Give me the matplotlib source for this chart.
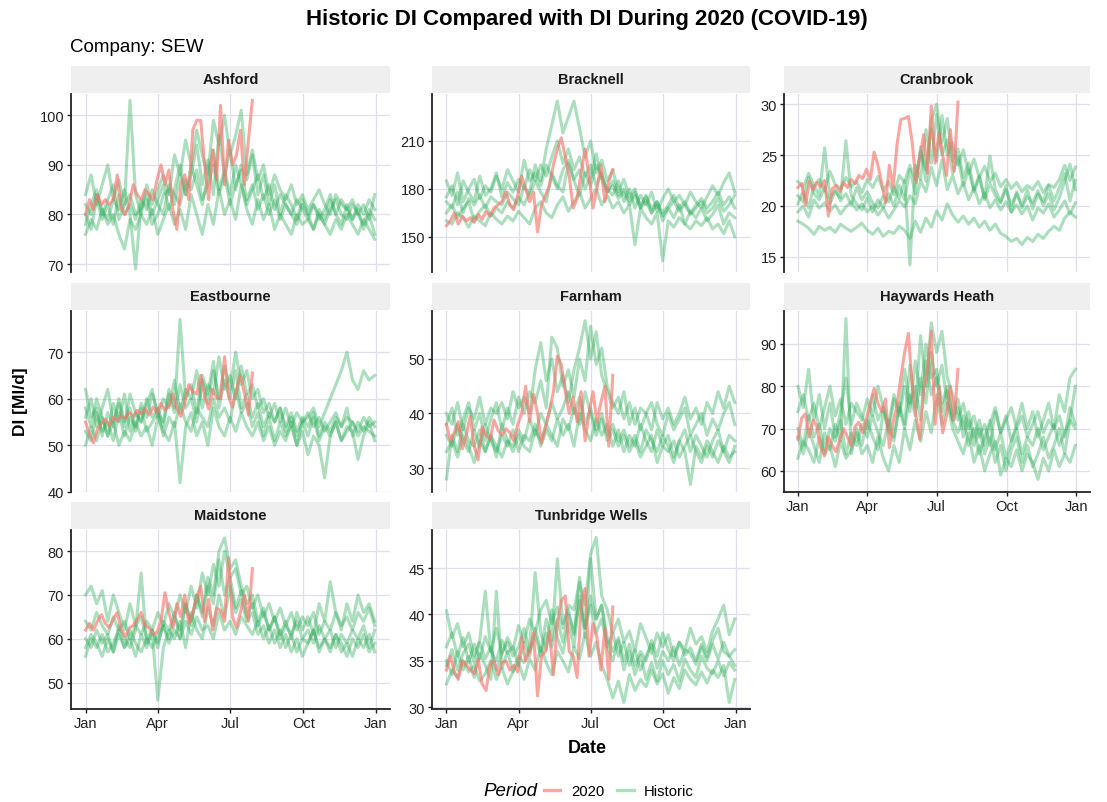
import numpy as np
import matplotlib
matplotlib.use("Agg")
import matplotlib.pyplot as plt
from matplotlib.lines import Line2D

plt.rcParams["font.family"] = ["Liberation Sans", "DejaVu Sans"]

# ---- data (day-of-year readings; historic weekly, 2020 every 5 days) ----
towns = ["Ashford", "Bracknell", "Cranbrook", "Eastbourne", "Farnham",
         "Haywards Heath", "Maidstone", "Tunbridge Wells"]
month_ticks = [0, 91, 182, 274, 365]
month_labels = ["Jan", "Apr", "Jul", "Oct", "Jan"]

ashford_2020 = [80, 83, 81, 84, 82, 83, 82, 83, 88, 81, 80, 82, 86, 84, 83, 85, 84, 83, 87, 90, 86,
                89, 81, 77, 86, 88, 83, 97, 99, 99, 90, 83, 93, 87, 102, 86, 95, 90, 92, 97, 86, 95, 103]
ashford_hist = [
    [78, 82, 85, 80, 83, 86, 79, 82, 84, 80, 81, 83, 78, 80, 84, 85, 82, 88, 84, 90, 86, 82, 88, 93, 85, 89, 84,
     90, 86, 82, 85, 88, 83, 86, 81, 84, 82, 80, 83, 81, 79, 82, 80, 78, 81, 83, 80, 79, 82, 80, 78, 81, 79],
    [84, 88, 82, 86, 90, 83, 87, 82, 103, 84, 80, 86, 82, 85, 88, 84, 92, 88, 95, 90, 97, 92, 88, 99, 94, 100, 92,
     96, 101, 88, 93, 87, 90, 84, 88, 85, 83, 86, 82, 84, 81, 83, 85, 82, 80, 84, 82, 81, 83, 80, 82, 79, 84],
    [76, 79, 77, 81, 78, 80, 76, 73, 79, 77, 80, 78, 81, 76, 79, 82, 78, 81, 77, 84, 80, 76, 82, 78, 85, 80, 83,
     79, 86, 81, 78, 83, 79, 82, 77, 80, 78, 76, 80, 78, 79, 77, 80, 78, 76, 79, 77, 80, 78, 76, 79, 77, 75],
    [82, 80, 84, 81, 79, 83, 81, 85, 80, 69, 82, 84, 80, 83, 86, 81, 85, 90, 84, 88, 94, 86, 91, 84, 96, 88, 93,
     85, 90, 87, 92, 84, 88, 82, 86, 80, 84, 82, 79, 83, 80, 82, 79, 81, 84, 80, 83, 81, 79, 82, 80, 83, 81],
    [80, 77, 83, 79, 82, 78, 84, 80, 82, 79, 83, 81, 85, 82, 80, 86, 84, 82, 87, 85, 89, 83, 86, 90, 84, 88, 82,
     86, 89, 83, 86, 81, 84, 80, 83, 79, 82, 80, 78, 82, 80, 77, 81, 79, 83, 80, 78, 82, 79, 81, 77, 80, 76],
]

bracknell_2020 = [157, 160, 165, 158, 163, 160, 162, 159, 164, 161, 166, 163, 168, 170, 172, 178, 170, 167, 176,
                  188, 180, 172, 178, 153, 170, 176, 182, 195, 205, 212, 200, 188, 168, 174, 190, 205, 188, 168,
                  180, 195, 172, 185, 192]
bracknell_hist = [
    [175, 182, 170, 185, 178, 172, 188, 176, 180, 190, 175, 184, 178, 186, 180, 192, 185, 195, 188, 200, 210, 196,
     205, 192, 200, 188, 195, 182, 190, 178, 185, 176, 180, 172, 178, 170, 175, 168, 172, 165, 170, 176, 168, 172,
     165, 170, 174, 168, 172, 178, 170, 175, 168],
    [165, 170, 162, 168, 172, 160, 166, 170, 163, 168, 165, 172, 168, 175, 170, 178, 195, 185, 205, 220, 235, 215,
     225, 235, 218, 200, 210, 190, 198, 185, 192, 178, 186, 175, 180, 168, 176, 165, 172, 160, 168, 162, 170, 158,
     166, 162, 168, 160, 164, 170, 158, 165, 162],
    [185, 176, 190, 172, 180, 186, 174, 182, 178, 188, 180, 192, 185, 178, 198, 185, 190, 182, 195, 188, 180, 192,
     198, 185, 176, 190, 182, 195, 188, 180, 176, 185, 172, 180, 168, 176, 170, 178, 166, 174, 180, 172, 176, 170,
     178, 172, 168, 175, 182, 176, 184, 190, 178],
    [160, 158, 165, 162, 156, 163, 160, 157, 165, 161, 158, 163, 160, 166, 162, 158, 168, 172, 165, 162, 170, 175,
     166, 172, 178, 168, 174, 180, 170, 176, 168, 172, 165, 170, 145, 168, 162, 158, 165, 135, 160, 156, 162, 158,
     155, 160, 157, 162, 155, 158, 152, 160, 150],
    [172, 168, 178, 165, 174, 170, 176, 168, 175, 172, 170, 178, 174, 170, 182, 176, 185, 178, 172, 190, 182, 178,
     196, 186, 192, 180, 188, 202, 186, 178, 182, 174, 178, 170, 176, 168, 172, 165, 170, 163, 168, 172, 166, 170,
     164, 168, 172, 165, 168, 174, 166, 170, 176],
]

cranbrook_2020 = [21.8, 22.2, 20.1, 22.4, 21.6, 22.3, 21.9, 22.5, 19.0, 21.7, 22.0, 21.4, 22.3, 21.8, 22.6, 22.2,
                  23.0, 22.7, 23.6, 22.6, 25.3, 24.0, 22.2, 20.3, 24.0, 21.8, 26.0, 28.5, 28.6, 28.8, 26.2, 22.3,
                  24.8, 27.0, 23.2, 29.8, 24.2, 27.2, 25.0, 23.0, 27.5, 23.4, 30.2]
cranbrook_hist = [
    [18.5, 18.2, 17.8, 17.2, 18.0, 17.6, 17.9, 17.4, 18.2, 17.8, 17.5, 17.9, 18.3, 17.6, 17.2, 17.8, 17.0, 17.5,
     17.3, 18.0, 17.6, 16.8, 18.5, 17.4, 18.8, 17.9, 19.5, 18.6, 20.2, 19.1, 18.4, 19.0, 18.2, 18.8, 17.9, 18.5,
     17.6, 18.2, 17.3, 17.0, 16.5, 16.8, 16.2, 16.9, 16.5, 17.2, 16.8, 17.5, 18.0, 17.6, 18.8, 19.4, 18.9],
    [20.2, 21.5, 19.8, 22.0, 21.0, 25.7, 20.8, 21.6, 20.5, 21.2, 20.1, 21.8, 20.6, 21.4, 20.3, 19.8, 21.0, 20.4,
     21.9, 20.7, 22.5, 14.2, 24.0, 22.6, 27.5, 24.2, 29.0, 25.0, 26.5, 23.2, 24.8, 22.0, 23.5, 21.4, 22.8, 20.6,
     22.2, 21.0, 20.3, 21.6, 20.1, 21.2, 19.8, 20.9, 20.3, 21.5, 20.0, 21.2, 19.6, 20.8, 22.4, 24.1, 21.6],
    [21.0, 20.4, 22.8, 21.2, 20.6, 21.8, 20.2, 21.4, 20.8, 26.4, 21.0, 20.2, 19.6, 20.8, 19.4, 20.6, 19.8, 21.2,
     20.0, 22.0, 20.6, 23.6, 21.2, 25.8, 22.4, 28.4, 30.0, 26.2, 28.6, 24.4, 25.6, 22.8, 24.2, 21.6, 23.0, 20.8,
     24.9, 21.6, 20.4, 22.0, 19.4, 21.4, 20.0, 21.6, 19.7, 21.2, 20.4, 22.0, 20.5, 21.8, 23.2, 20.5, 22.5],
    [19.4, 20.0, 18.9, 20.6, 19.8, 20.3, 19.5, 20.1, 19.2, 19.9, 20.4, 19.6, 20.2, 19.4, 20.0, 19.1, 19.8, 18.8,
     19.6, 20.5, 19.9, 21.0, 20.2, 22.5, 21.4, 23.8, 22.0, 24.5, 21.6, 23.0, 21.2, 22.3, 20.6, 21.8, 20.2, 21.3,
     19.8, 20.6, 19.6, 20.4, 19.4, 20.1, 19.2, 20.0, 18.6, 19.8, 19.3, 20.2, 18.9, 19.6, 20.5, 19.2, 20.3],
    [22.4, 21.8, 23.2, 22.0, 22.6, 21.5, 23.4, 22.1, 21.7, 22.8, 21.9, 22.4, 21.3, 22.6, 21.8, 22.9, 21.5, 22.4,
     21.1, 23.0, 22.3, 24.0, 22.6, 25.4, 23.5, 27.6, 24.4, 28.9, 25.0, 26.2, 24.0, 25.5, 23.2, 24.6, 22.8, 23.9,
     22.4, 23.2, 21.9, 22.6, 21.7, 22.3, 21.4, 22.0, 21.6, 22.4, 21.3, 22.1, 21.8, 22.6, 24.0, 22.5, 23.8],
]

eastbourne_2020 = [55.0, 52.5, 50.5, 53.5, 54.8, 55.6, 54.2, 56.0, 55.2, 56.4, 55.8, 57.0, 56.2, 57.5, 56.8, 57.8,
                   56.5, 58.2, 57.0, 59.0, 57.5, 58.5, 61.0, 57.8, 56.2, 59.2, 63.0, 61.5, 61.0, 65.0, 60.5, 57.8,
                   62.0, 60.2, 60.0, 69.0, 60.5, 58.2, 62.0, 65.0, 61.2, 56.5, 65.5]
eastbourne_hist = [
    [58, 54, 60, 56, 52, 59, 55, 61, 53, 57, 55, 60, 56, 58, 54, 61, 57, 63, 58, 60, 55, 64, 59, 66, 60, 67, 62,
     70, 63, 66, 60, 62, 57, 59, 55, 58, 54, 57, 53, 56, 54, 57, 52, 55, 53, 56, 54, 58, 52, 55, 53, 56, 54],
    [62, 56, 58, 52, 57, 54, 60, 55, 58, 53, 59, 56, 61, 57, 55, 62, 58, 77, 60, 63, 57, 65, 61, 68, 58, 64, 60,
     66, 58, 61, 56, 59, 54, 57, 55, 58, 53, 56, 52, 55, 57, 54, 56, 53, 55, 57, 54, 56, 55, 53, 56, 54, 55],
    [50, 54, 51, 56, 52, 55, 50, 53, 51, 55, 52, 54, 50, 56, 53, 51, 55, 42, 54, 57, 52, 55, 50, 58, 54, 52, 56,
     53, 57, 54, 52, 55, 51, 54, 50, 53, 51, 55, 50, 53, 48, 52, 50, 43, 52, 55, 51, 54, 53, 47, 52, 55, 51],
    [56, 60, 54, 58, 62, 55, 59, 54, 61, 57, 55, 59, 62, 56, 60, 58, 64, 57, 62, 60, 66, 58, 63, 61, 69, 62, 65,
     60, 67, 61, 63, 58, 60, 56, 59, 55, 58, 54, 57, 55, 56, 58, 54, 57, 60, 63, 66, 70, 64, 62, 66, 64, 65],
    [53, 51, 57, 53, 55, 51, 57, 52, 56, 54, 58, 53, 55, 57, 52, 56, 54, 59, 55, 53, 58, 56, 54, 60, 56, 58, 55,
     62, 57, 59, 54, 57, 52, 56, 51, 55, 52, 54, 50, 55, 52, 56, 51, 54, 52, 55, 51, 53, 55, 52, 54, 53, 52],
]

farnham_2020 = [38.0, 35.0, 36.5, 38.5, 33.5, 36.0, 39.5, 34.0, 31.5, 37.5, 36.0, 35.2, 38.8, 37.0, 36.0, 37.2,
                36.5, 35.0, 38.0, 40.0, 45.0, 38.5, 43.5, 40.0, 34.5, 37.5, 40.5, 44.0, 50.5, 49.0, 44.0, 40.0,
                43.0, 38.5, 44.0, 35.0, 40.0, 44.0, 38.5, 42.0, 45.0, 34.0, 47.0]
farnham_hist = [
    [28, 36, 33, 38, 35, 34, 37, 33, 36, 32, 38, 35, 34, 37, 35, 39, 36, 40, 38, 42, 39, 41, 44, 40, 43, 38, 41,
     37, 40, 36, 38, 35, 37, 34, 36, 33, 37, 35, 33, 36, 34, 31, 35, 33, 27, 34, 32, 35, 33, 31, 34, 32, 33],
    [40, 38, 42, 37, 41, 39, 43, 38, 41, 40, 42, 39, 44, 41, 43, 40, 48, 53, 46, 50, 44, 47, 42, 48, 52, 57, 50,
     55, 47, 44, 41, 43, 39, 42, 38, 41, 40, 37, 42, 39, 41, 38, 40, 43, 39, 41, 38, 42, 40, 44, 41, 45, 42],
    [36, 34, 38, 35, 33, 37, 34, 38, 35, 33, 36, 34, 37, 33, 36, 35, 38, 34, 37, 35, 39, 36, 38, 34, 40, 37, 35,
     39, 36, 38, 34, 37, 33, 36, 34, 38, 35, 33, 37, 34, 36, 32, 35, 37, 33, 36, 34, 32, 35, 37, 33, 36, 35],
    [38, 41, 36, 39, 42, 37, 40, 35, 39, 42, 37, 41, 38, 43, 40, 44, 42, 46, 41, 54, 52, 45, 48, 43, 50, 46, 56,
     49, 52, 45, 42, 40, 44, 38, 41, 37, 40, 42, 38, 36, 40, 37, 39, 41, 36, 38, 40, 36, 39, 37, 40, 42, 38],
    [33, 35, 32, 36, 34, 31, 35, 33, 36, 34, 32, 35, 33, 36, 34, 33, 37, 35, 38, 36, 34, 39, 37, 41, 38, 44, 40,
     36, 39, 35, 37, 34, 36, 33, 35, 32, 34, 36, 31, 34, 33, 35, 32, 34, 36, 33, 31, 34, 32, 35, 33, 31, 34],
]

haywards_2020 = [67.5, 72.5, 73.5, 68.0, 72.0, 70.5, 65.5, 63.5, 68.0, 66.0, 64.5, 67.5, 70.0, 68.0, 66.0, 70.5,
                 71.5, 69.0, 72.5, 76.0, 79.5, 76.0, 74.0, 77.0, 65.5, 71.5, 75.5, 82.0, 88.0, 92.5, 80.0, 73.0,
                 67.5, 79.0, 84.0, 93.0, 71.0, 80.0, 69.0, 73.0, 80.0, 72.0, 84.0]
haywards_hist = [
    [80, 75, 84, 72, 78, 70, 76, 68, 74, 82, 71, 76, 73, 70, 78, 72, 75, 69, 77, 73, 80, 74, 86, 78, 90, 82, 84,
     76, 80, 72, 75, 68, 72, 66, 70, 64, 68, 62, 66, 60, 65, 68, 62, 66, 61, 64, 68, 63, 66, 70, 64, 72, 80],
    [68, 64, 70, 66, 62, 69, 65, 71, 67, 96, 64, 70, 66, 72, 68, 65, 74, 70, 67, 76, 71, 85, 75, 92, 80, 95, 88,
     93, 82, 78, 72, 76, 70, 73, 68, 71, 66, 74, 69, 72, 75, 70, 73, 68, 71, 74, 69, 72, 70, 73, 68, 75, 71],
    [63, 67, 65, 62, 68, 64, 66, 61, 67, 63, 65, 69, 64, 66, 62, 68, 63, 60, 66, 62, 70, 65, 72, 67, 74, 69, 78,
     71, 76, 70, 67, 64, 69, 62, 66, 60, 64, 67, 59, 63, 61, 65, 60, 64, 62, 58, 63, 60, 65, 61, 64, 62, 66],
    [74, 78, 72, 76, 70, 75, 80, 73, 77, 71, 76, 74, 72, 77, 73, 80, 75, 71, 78, 74, 84, 76, 80, 72, 86, 78, 82,
     74, 79, 73, 77, 70, 74, 68, 72, 66, 71, 75, 69, 73, 67, 71, 76, 70, 74, 68, 72, 76, 70, 78, 74, 82, 84],
    [70, 66, 73, 68, 71, 65, 70, 67, 72, 64, 69, 66, 71, 68, 73, 69, 66, 72, 68, 75, 70, 78, 73, 82, 76, 88, 80,
     85, 76, 72, 69, 73, 66, 70, 64, 68, 72, 65, 69, 63, 67, 70, 64, 68, 66, 70, 65, 68, 71, 66, 69, 72, 70],
]

maidstone_2020 = [62.0, 63.5, 62.0, 64.0, 65.5, 63.5, 62.5, 64.5, 66.0, 62.0, 60.5, 62.5, 63.0, 64.5, 66.0, 63.0,
                  62.5, 61.0, 61.5, 64.0, 70.5, 66.0, 62.5, 68.0, 65.0, 70.0, 63.5, 66.0, 69.5, 72.0, 64.0, 69.0,
                  62.0, 67.0, 66.5, 64.0, 78.5, 65.0, 62.5, 66.0, 70.0, 64.0, 76.0]
maidstone_hist = [
    [70, 72, 68, 71, 64, 70, 66, 62, 68, 63, 65, 60, 62, 58, 64, 62, 66, 60, 68, 63, 70, 65, 72, 68, 78, 70, 74,
     67, 71, 65, 68, 63, 66, 62, 65, 61, 64, 60, 66, 62, 65, 61, 68, 64, 73, 66, 62, 68, 64, 70, 66, 68, 64],
    [60, 58, 62, 59, 61, 57, 63, 60, 58, 62, 75, 59, 61, 46, 58, 62, 60, 64, 58, 66, 62, 60, 67, 63, 70, 65, 72,
     66, 69, 64, 66, 61, 63, 59, 62, 58, 61, 57, 60, 56, 59, 62, 57, 60, 58, 61, 57, 59, 56, 60, 58, 61, 57],
    [56, 60, 58, 61, 57, 59, 62, 58, 60, 56, 61, 58, 62, 59, 63, 60, 65, 62, 68, 64, 70, 66, 74, 70, 80, 83, 76,
     78, 72, 68, 70, 64, 67, 62, 65, 60, 63, 61, 64, 60, 62, 59, 63, 60, 62, 58, 61, 59, 62, 60, 63, 58, 62],
    [64, 62, 66, 63, 61, 65, 62, 64, 60, 63, 61, 64, 62, 66, 63, 68, 65, 70, 66, 72, 67, 75, 70, 77, 72, 80, 74,
     76, 70, 72, 67, 70, 65, 68, 64, 67, 63, 66, 62, 65, 63, 66, 61, 64, 62, 66, 63, 65, 62, 66, 64, 67, 63],
    [58, 61, 59, 56, 60, 57, 61, 58, 62, 59, 57, 60, 58, 61, 63, 59, 62, 60, 64, 61, 65, 62, 63, 60, 66, 62, 64,
     61, 65, 63, 61, 64, 60, 63, 59, 62, 58, 61, 57, 60, 59, 62, 58, 60, 57, 61, 59, 56, 60, 58, 61, 57, 59],
]

tunbridge_2020 = [34.0, 35.5, 33.8, 33.0, 35.0, 34.6, 34.0, 33.6, 35.2, 32.5, 31.8, 34.6, 35.0, 33.5, 34.8, 35.0,
                  34.0, 34.5, 33.8, 37.5, 35.0, 36.0, 38.0, 31.2, 35.5, 36.0, 38.2, 33.5, 39.0, 41.5, 42.0, 36.0,
                  35.5, 33.2, 41.0, 42.8, 35.5, 39.0, 37.5, 34.0, 38.5, 33.0, 40.8]
tunbridge_hist = [
    [40.4, 37.5, 39.0, 36.5, 38.0, 35.5, 37.2, 42.5, 36.0, 38.5, 35.8, 37.5, 36.2, 38.8, 37.0, 39.5, 38.0, 40.5,
     41.5, 39.0, 40.8, 38.5, 41.0, 40.5, 43.5, 41.0, 46.5, 48.3, 42.0, 40.5, 38.0, 39.5, 37.0, 38.2, 36.0, 39.0,
     37.5, 35.8, 38.0, 36.5, 37.8, 35.5, 37.0, 36.2, 38.5, 36.8, 37.6, 36.0, 38.2, 39.5, 41.0, 37.8, 39.5],
    [35.0, 33.5, 36.0, 34.0, 35.5, 33.2, 35.8, 34.5, 33.0, 42.5, 34.2, 36.0, 33.8, 35.5, 34.8, 36.5, 44.5, 38.0,
     36.2, 40.5, 37.5, 35.8, 39.0, 36.5, 42.0, 37.5, 46.0, 39.5, 41.0, 36.5, 35.0, 37.2, 34.0, 36.0, 33.5, 35.6,
     33.0, 34.8, 32.8, 35.0, 33.5, 34.6, 32.8, 35.2, 34.0, 33.2, 35.5, 34.2, 33.6, 35.0, 33.4, 34.8, 34.0],
    [36.5, 38.0, 35.5, 37.5, 34.8, 36.8, 35.2, 37.6, 36.0, 35.0, 37.2, 35.8, 36.5, 34.5, 37.0, 35.5, 38.5, 36.0,
     39.5, 37.2, 46.0, 39.0, 40.5, 37.8, 44.0, 38.5, 41.0, 38.0, 39.5, 36.5, 38.0, 35.5, 37.0, 34.5, 36.2, 34.0,
     35.5, 36.8, 34.2, 36.0, 35.0, 36.5, 34.5, 36.2, 35.8, 34.6, 36.5, 35.0, 36.8, 35.2, 37.0, 35.5, 36.2],
    [32.5, 34.0, 33.2, 35.0, 33.8, 34.5, 32.8, 33.6, 35.0, 33.0, 34.2, 32.5, 33.8, 34.8, 33.0, 35.2, 34.0, 36.5,
     34.8, 33.5, 36.0, 35.0, 33.8, 36.5, 35.2, 38.0, 35.5, 37.0, 34.5, 33.0, 31.0, 32.8, 30.5, 33.5, 31.8, 33.0,
     32.2, 34.0, 32.5, 33.6, 31.5, 33.2, 32.0, 34.0, 33.0, 32.4, 33.8, 32.6, 34.0, 33.2, 34.5, 30.5, 33.0],
    [34.5, 36.2, 34.0, 35.8, 36.8, 34.8, 37.0, 35.2, 36.5, 34.0, 35.8, 37.0, 35.5, 36.5, 38.5, 36.0, 37.8, 35.5,
     38.0, 36.5, 39.5, 37.0, 40.0, 38.0, 41.5, 38.5, 42.0, 39.5, 41.0, 37.5, 36.0, 37.5, 35.0, 36.8, 34.5, 36.0,
     35.0, 37.2, 35.5, 38.0, 36.2, 35.0, 37.0, 35.6, 36.4, 35.0, 36.8, 35.4, 37.2, 38.5, 36.0, 35.5, 34.5],
]

series_2020 = [ashford_2020, bracknell_2020, cranbrook_2020, eastbourne_2020,
               farnham_2020, haywards_2020, maidstone_2020, tunbridge_2020]
series_hist = [ashford_hist, bracknell_hist, cranbrook_hist, eastbourne_hist,
               farnham_hist, haywards_hist, maidstone_hist, tunbridge_hist]
y_ticks = [[70, 80, 90, 100], [150, 180, 210], [15, 20, 25, 30], [40, 50, 60, 70],
           [30, 40, 50], [60, 70, 80, 90], [50, 60, 70, 80], [30, 35, 40, 45]]
y_limits = [(68.4, 104.3), (128, 239.4), (13.5, 31.0), (40.0, 78.8),
            (25.6, 58.8), (55.0, 97.8), (44.0, 84.8), (29.8, 49.1)]

# ---- layout (pixel boxes of the ggplot-like facets) ----
W, H = 1107, 803
col_x = [(71, 390), (432, 750), (784, 1090)]
row_y = [(67, 95, 273), (284, 312, 493), (503, 531, 710)]
col_hist = "#2EAD5B"
col_2020 = "#F8766D"
grid_col = "#DEDEEC"
lw = 2.2

fig = plt.figure(figsize=(W / 100, H / 100), dpi=100)


def box(x0, x1, y0, y1):
    return [x0 / W, 1 - y1 / H, (x1 - x0) / W, (y1 - y0) / H]


for k, town in enumerate(towns):
    r, c = divmod(k, 3)
    x0, x1 = col_x[c]
    s_top, p_top, p_bot = row_y[r]
    bottom_row = k >= 5

    strip = fig.add_axes(box(x0, x1, s_top, p_top - 1))
    strip.set_facecolor("#EFEFEF")
    strip.set_xticks([])
    strip.set_yticks([])
    for sp in strip.spines.values():
        sp.set_visible(False)
    strip.text(0.5, 0.5, town, ha="center", va="center", fontsize=10.5, fontweight="bold", color="#1a1a1a")

    ax = fig.add_axes(box(x0, x1, p_top, p_bot))
    for vals in series_hist[k]:
        days = np.arange(len(vals)) * 7
        ax.plot(days, vals, color=col_hist, alpha=0.4, lw=lw, solid_joinstyle="round")
    days20 = np.arange(len(series_2020[k])) * 5
    ax.plot(days20, series_2020[k], color=col_2020, alpha=0.65, lw=lw, solid_joinstyle="round")

    ax.set_xlim(-18.25, 383.25)
    ax.set_ylim(*y_limits[k])
    ax.set_yticks(y_ticks[k])
    ax.set_xticks(month_ticks)
    ax.grid(True, color=grid_col, lw=0.9)
    ax.set_axisbelow(True)
    for sp in ["top", "right"]:
        ax.spines[sp].set_visible(False)
    ax.spines["left"].set_color("#222222")
    ax.spines["left"].set_linewidth(1.3)
    ax.tick_params(axis="y", labelsize=10.5, length=3, width=1, color="#222222", labelcolor="#222222", pad=2)
    if bottom_row:
        ax.set_xticklabels(month_labels)
        ax.spines["bottom"].set_color("#222222")
        ax.spines["bottom"].set_linewidth(1.3)
        ax.tick_params(axis="x", labelsize=10.5, length=3, width=1, color="#222222", labelcolor="#222222", pad=2)
    else:
        ax.spines["bottom"].set_visible(False)
        ax.tick_params(axis="x", labelbottom=False, length=0)

fig.text(587 / W, 1 - 19 / H, "Historic DI Compared with DI During 2020 (COVID-19)",
         ha="center", va="center", fontsize=16, fontweight="bold")
fig.text(70 / W, 1 - 47 / H, "Company: SEW", ha="left", va="center", fontsize=13.5)
fig.text(20 / W, 1 - 402 / H, "DI [Ml/d]", ha="center", va="center", rotation=90,
         fontsize=12.5, fontweight="bold")
fig.text(587 / W, 1 - 749 / H, "Date", ha="center", va="center", fontsize=13, fontweight="bold")

fig.text(510 / W, 1 - 792 / H, "Period", ha="center", va="center", fontsize=13.5, style="italic")
handles = [Line2D([], [], color=col_2020, alpha=0.65, lw=2.4),
           Line2D([], [], color=col_hist, alpha=0.4, lw=2.4)]
fig.legend(handles, ["2020", "Historic"], loc="center", bbox_to_anchor=(619 / W, 1 - 792 / H),
           ncol=2, frameon=False, fontsize=10.7, handlelength=1.1, handletextpad=0.7, columnspacing=0.9)

fig.savefig("out.png", dpi=100)
